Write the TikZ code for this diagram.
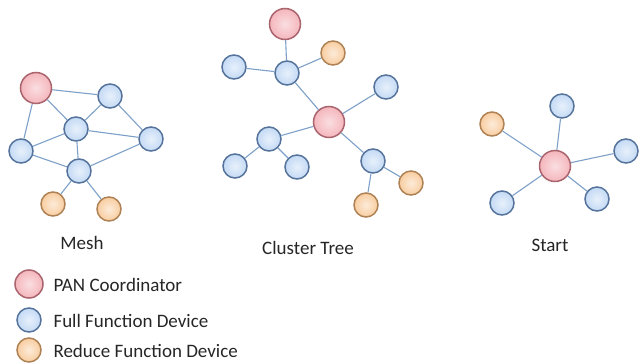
\documentclass[tikz,border=0pt]{standalone}
\usepackage{fontspec}
\setmainfont{Carlito}
\usepackage{tikz}
\usetikzlibrary{positioning}
\definecolor{panfill}{RGB}{244,182,188}
\definecolor{pandraw}{RGB}{170,100,110}
\definecolor{ffdfill}{RGB}{196,218,245}
\definecolor{ffddraw}{RGB}{85,115,155}
\definecolor{rfdfill}{RGB}{248,205,160}
\definecolor{rfddraw}{RGB}{175,130,85}
\definecolor{linkblue}{RGB}{125,160,200}

\begin{document}
\begin{tikzpicture}[
  x=1pt, y=-1pt,
  pan/.style={circle, draw=pandraw, line width=1.5pt, inner sep=0pt, minimum size=31pt, shading=radial, inner color=panfill!45, outer color=panfill},
  ffd/.style={circle, draw=ffddraw, line width=1.5pt, inner sep=0pt, minimum size=24pt, shading=radial, inner color=ffdfill!40, outer color=ffdfill},
  rfd/.style={circle, draw=rfddraw, line width=1.5pt, inner sep=0pt, minimum size=24pt, shading=radial, inner color=rfdfill!40, outer color=rfdfill},
  link/.style={draw=linkblue, line width=1.1pt},
  title/.style={font=\fontsize{19}{22}\selectfont, text=black!85},
  legend/.style={font=\fontsize{19}{22}\selectfont, text=black!85, anchor=west}
]
\useasboundingbox (0,0) rectangle (640,364);

% Mesh
\node[pan] (m-pan) at (36,88) {};
\node[ffd] (m-top) at (110,96) {};
\node[ffd] (m-mid) at (76,129) {};
\node[ffd] (m-right) at (151,139) {};
\node[ffd] (m-left) at (21,151) {};
\node[ffd] (m-low) at (79,171) {};
\node[rfd] (m-r1) at (53,204) {};
\node[rfd] (m-r2) at (109,209) {};
\node[title] (m-label) at (82,243) {Mesh};

\draw[link] (m-pan) -- (m-top);
\draw[link] (m-pan) -- (m-mid);
\draw[link] (m-pan) -- (m-left);
\draw[link] (m-top) -- (m-mid);
\draw[link] (m-top) -- (m-right);
\draw[link] (m-mid) -- (m-right);
\draw[link] (m-mid) -- (m-left);
\draw[link] (m-mid) -- (m-low);
\draw[link] (m-left) -- (m-low);
\draw[link] (m-low) -- (m-right);
\draw[link] (m-low) -- (m-r1);
\draw[link] (m-low) -- (m-r2);

% Cluster tree
\node[pan] (c-pan1) at (285,24) {};
\node[ffd] (c-hub1) at (287,73) {};
\node[ffd] (c-a) at (234,67) {};
\node[rfd] (c-r1) at (333,53) {};
\node[pan] (c-pan2) at (329,122) {};
\node[ffd] (c-b) at (386,87) {};
\node[ffd] (c-hub2) at (269,139) {};
\node[ffd] (c-c) at (235,166) {};
\node[ffd] (c-d) at (297,167) {};
\node[ffd] (c-hub3) at (373,161) {};
\node[rfd] (c-r2) at (411,183) {};
\node[rfd] (c-r3) at (366,205) {};
\node[title] (c-label) at (308,248) {Cluster Tree};

\draw[link] (c-pan1) -- (c-hub1);
\draw[link] (c-hub1) -- (c-a);
\draw[link] (c-hub1) -- (c-r1);
\draw[link] (c-hub1) -- (c-pan2);
\draw[link] (c-pan2) -- (c-b);
\draw[link] (c-pan2) -- (c-hub2);
\draw[link] (c-hub2) -- (c-c);
\draw[link] (c-hub2) -- (c-d);
\draw[link] (c-pan2) -- (c-hub3);
\draw[link] (c-hub3) -- (c-r2);
\draw[link] (c-hub3) -- (c-r3);

% Star
\node[pan] (s-pan) at (555,166) {};
\node[ffd] (s-top) at (562,106) {};
\node[rfd] (s-r1) at (492,124) {};
\node[ffd] (s-right) at (626,151) {};
\node[ffd] (s-left) at (502,203) {};
\node[ffd] (s-low) at (597,199) {};
\node[title] (s-label) at (550,245) {Start};

\draw[link] (s-pan) -- (s-top);
\draw[link] (s-pan) -- (s-r1);
\draw[link] (s-pan) -- (s-right);
\draw[link] (s-pan) -- (s-left);
\draw[link] (s-pan) -- (s-low);

% Legend
\node[pan, minimum size=28pt] (k-pan) at (29,284) {};
\node[ffd] (k-ffd) at (29,320) {};
\node[rfd] (k-rfd) at (29,350) {};
\node[legend] (k-pan-text) at (50,285) {PAN Coordinator};
\node[legend] (k-ffd-text) at (50,321) {Full Function Device};
\node[legend] (k-rfd-text) at (50,351) {Reduce Function Device};
\end{tikzpicture}
\end{document}
